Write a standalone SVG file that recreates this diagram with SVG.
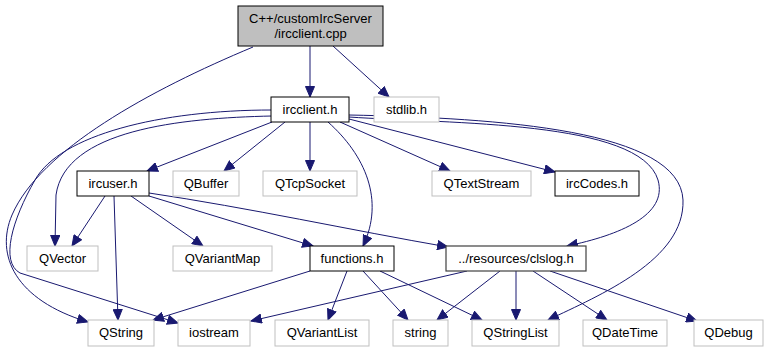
<svg xmlns="http://www.w3.org/2000/svg" width="769" height="352" viewBox="0 0 769 352">
  <style>
    .node rect { fill: #ffffff; stroke: #000000; stroke-width: 1; }
    .node.ext rect { stroke: #bfbfbf; }
    .node.root rect { fill: #bfbfbf; }
    .node.hub rect { stroke: #404040; stroke-width: 1.2; }
    .node text { font-family: "Liberation Sans", Arial, sans-serif; font-size: 13px; fill: #000000; text-anchor: middle; }
    #edges path { fill: none; stroke: #191970; stroke-width: 1; marker-end: url(#arrow); }
  </style>
  <defs>
    <marker id="arrow" markerUnits="userSpaceOnUse" markerWidth="12" markerHeight="10" refX="11" refY="5" orient="auto">
      <path d="M0.5,0.5 L11,5 L0.5,9.5 z" fill="#191970" stroke="#191970" stroke-width="1"/>
    </marker>
  </defs>

  <g id="edges">
    <!-- ircclient.cpp -->
    <path d="M310,46 L310,97"/>
    <path d="M333,46 L389,97"/>
    <path d="M253,47 C150,90 40,150 12,215 C-5,255 15,300 88,322"/>
    <!-- ircclient.h -->
    <path d="M272,122 L147,171"/>
    <path d="M285,122 L224,171"/>
    <path d="M310,122 L310,171"/>
    <path d="M340,122 L450,171"/>
    <path d="M349,119 L555,172"/>
    <path d="M328,122 C365,155 385,200 363,246"/>
    <path d="M349,117 C450,124 640,120 658,180 C668,215 620,235 567,246"/>
    <path d="M349,115 C500,118 680,130 683,200 C685,260 600,295 548,320"/>
    <path d="M272,116 C180,118 65,130 56,195 L55,246"/>
    <path d="M272,110 C160,110 60,135 35,180 C12,220 0,262 20,273 L178,323"/>
    <!-- ircuser.h -->
    <path d="M105,196 L72,246"/>
    <path d="M114,196 L118,320"/>
    <path d="M131,196 L203,246"/>
    <path d="M149,196 L313,246"/>
    <path d="M149,193 C250,208 350,230 448,247"/>
    <!-- functions.h -->
    <path d="M310,271 L153,320"/>
    <path d="M347,271 L328,320"/>
    <path d="M363,271 L408,320"/>
    <path d="M380,271 L482,320"/>
    <!-- ../resources/clslog.h -->
    <path d="M467,271 L251,321"/>
    <path d="M500,271 L437,320"/>
    <path d="M516,271 L516,320"/>
    <path d="M533,271 L607,320"/>
    <path d="M550,271 L697,321"/>
  </g>

  <g id="node-ircclient-cpp" class="node root">
    <rect x="238" y="6" width="145" height="40"/>
    <text x="310.5" y="23">C++/customIrcServer</text>
    <text x="310.5" y="38">/ircclient.cpp</text>
  </g>
  <g id="node-ircclient-h" class="node">
    <rect x="271" y="97" width="78" height="25"/>
    <text x="310" y="114">ircclient.h</text>
  </g>
  <g id="node-stdlib" class="node ext">
    <rect x="374" y="97" width="65" height="25"/>
    <text x="406.5" y="114">stdlib.h</text>
  </g>
  <g id="node-ircuser" class="node">
    <rect x="77" y="171" width="72" height="25"/>
    <text x="113" y="188">ircuser.h</text>
  </g>
  <g id="node-qbuffer" class="node ext">
    <rect x="173" y="171" width="66" height="25"/>
    <text x="206" y="188">QBuffer</text>
  </g>
  <g id="node-qtcpsocket" class="node ext">
    <rect x="263" y="171" width="94" height="25"/>
    <text x="310" y="188">QTcpSocket</text>
  </g>
  <g id="node-qtextstream" class="node ext">
    <rect x="432" y="171" width="99" height="25"/>
    <text x="481.5" y="188">QTextStream</text>
  </g>
  <g id="node-irccodes" class="node">
    <rect x="555" y="171" width="84" height="25"/>
    <text x="597" y="188">ircCodes.h</text>
  </g>
  <g id="node-qvector" class="node ext">
    <rect x="27" y="246" width="71" height="25"/>
    <text x="62.5" y="263">QVector</text>
  </g>
  <g id="node-qvariantmap" class="node ext">
    <rect x="173" y="246" width="99" height="25"/>
    <text x="222.5" y="263">QVariantMap</text>
  </g>
  <g id="node-functions" class="node">
    <rect x="310" y="246" width="84" height="25"/>
    <text x="352" y="263">functions.h</text>
  </g>
  <g id="node-clslog" class="node hub">
    <rect x="446" y="246" width="140" height="25"/>
    <text x="516" y="263">../resources/clslog.h</text>
  </g>
  <g id="node-qstring" class="node ext">
    <rect x="88" y="320" width="66" height="26"/>
    <text x="121" y="337">QString</text>
  </g>
  <g id="node-iostream" class="node ext">
    <rect x="178" y="320" width="72" height="26"/>
    <text x="214" y="337">iostream</text>
  </g>
  <g id="node-qvariantlist" class="node ext">
    <rect x="275" y="320" width="94" height="26"/>
    <text x="322" y="337">QVariantList</text>
  </g>
  <g id="node-string" class="node ext">
    <rect x="393" y="320" width="55" height="26"/>
    <text x="420.5" y="337">string</text>
  </g>
  <g id="node-qstringlist" class="node ext">
    <rect x="472" y="320" width="87" height="26"/>
    <text x="515.5" y="337">QStringList</text>
  </g>
  <g id="node-qdatetime" class="node ext">
    <rect x="583" y="320" width="84" height="26"/>
    <text x="625" y="337">QDateTime</text>
  </g>
  <g id="node-qdebug" class="node ext">
    <rect x="694" y="320" width="69" height="26"/>
    <text x="728.5" y="337">QDebug</text>
  </g>
</svg>
